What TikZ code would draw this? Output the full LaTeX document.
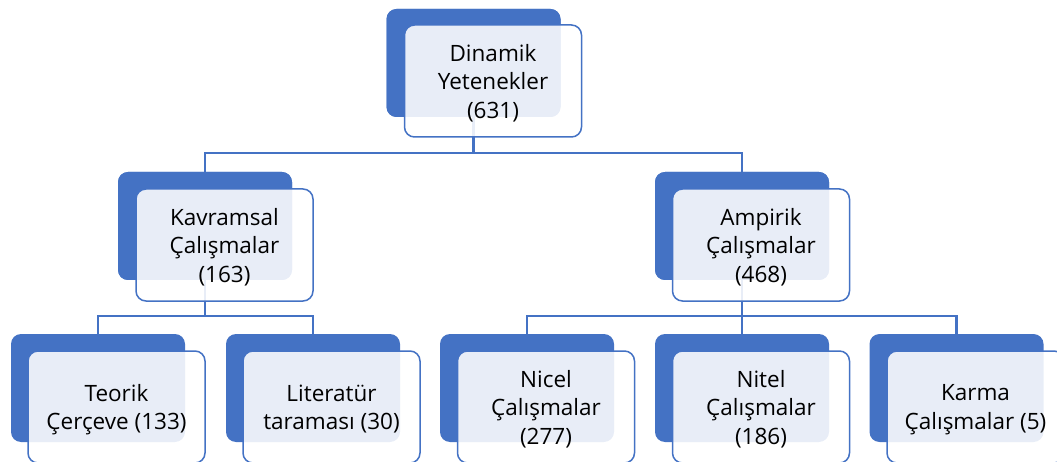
\documentclass[tikz,border=0pt]{standalone}
\usepackage{fontspec}
\setmainfont{Open Sans}
\definecolor{sablue}{HTML}{4472C4}
\begin{document}
\begin{tikzpicture}[x=1pt,y=-1pt,
  backbox/.style={draw=none,fill=sablue,rounded corners=10pt,minimum width=174pt,minimum height=108pt,inner sep=0pt},
  frontbox/.style={draw=sablue,line width=1.5pt,fill=white,fill opacity=0.88,text opacity=1,rounded corners=10pt,
    minimum width=177pt,minimum height=112pt,inner sep=0pt,align=center,text depth=0pt,
    font=\fontsize{22.5}{28.5}\selectfont,text=black},
  conn/.style={draw=sablue,line width=2.2pt}]
\useasboundingbox (0,0) rectangle (1057,462);
% back boxes
\node[backbox] (top-b) at (473.5,63) {};
\node[backbox] (kav-b) at (205,226) {};
\node[backbox] (amp-b) at (742,226) {};
\node[backbox] (teo-b) at (98,388) {};
\node[backbox] (lit-b) at (313,388) {};
\node[backbox] (nic-b) at (527,388) {};
\node[backbox] (nit-b) at (742,388) {};
\node[backbox] (kar-b) at (956.5,388) {};
% connectors
\draw[conn] (top-b.south) -- ++(0,36) -| (kav-b.north);
\draw[conn] (top-b.south) -- ++(0,36) -| (amp-b.north);
\draw[conn] (kav-b.south) -- ++(0,36) -| (teo-b.north);
\draw[conn] (kav-b.south) -- ++(0,36) -| (lit-b.north);
\draw[conn] (amp-b.south) -- ++(0,36) -| (nic-b.north);
\draw[conn] (amp-b.south) -- ++(0,36) -| (nit-b.north);
\draw[conn] (amp-b.south) -- ++(0,36) -| (kar-b.north);
% redraw back boxes over connector ends
\node[backbox] at (top-b) {};
\node[backbox] at (kav-b) {};
\node[backbox] at (amp-b) {};
% front boxes
\node[frontbox] (top) at (493,81) {Dinamik\\Yetenekler\\(631)};
\node[frontbox] (kav) at (224.5,245) {Kavramsal\\Çalışmalar\\(163)};
\node[frontbox] (amp) at (761,245) {Ampirik\\Çalışmalar\\(468)};
\node[frontbox] (teo) at (116.5,407) {Teorik\\Çerçeve (133)};
\node[frontbox] (lit) at (331.5,407) {Literatür\\taraması (30)};
\node[frontbox] (nic) at (546,407) {Nicel\\Çalışmalar\\(277)};
\node[frontbox] (nit) at (761,407) {Nitel\\Çalışmalar\\(186)};
\node[frontbox] (kar) at (975.5,407) {Karma\\Çalışmalar (5)};
\end{tikzpicture}
\end{document}
